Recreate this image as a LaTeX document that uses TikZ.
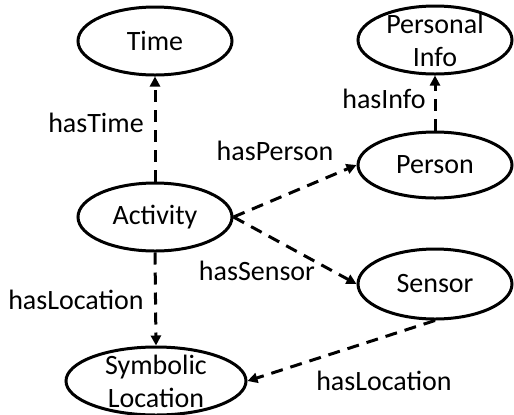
\documentclass[tikz,border=0pt]{standalone}
\usepackage{fontspec}
\setmainfont{Carlito}
\usetikzlibrary{shapes.geometric, arrows.meta, positioning}

\begin{document}
\begin{tikzpicture}[
  x=0.5pt, y=-0.5pt,
  concept/.style={draw, ellipse, line width=1.5pt, minimum width=77pt, minimum height=34pt, inner xsep=0pt, inner ysep=-5pt, align=center, font=\fontsize{14}{16.5}\selectfont},
  rel/.style={-{Triangle[length=5pt, width=5pt]}, line width=1.5pt, dash pattern=on 6pt off 4pt},
  lbl/.style={inner sep=0pt, font=\fontsize{14}{16.5}\selectfont}
]
  \useasboundingbox (0,0) rectangle (514,414);

  \node[concept] (Time) at (155,41) {Time};
  \node[concept] (Info) at (435,40) {Personal\\Info};
  \node[concept, minimum height=33pt] (Person) at (435,165) {Person};
  \node[concept] (Activity) at (155,217) {Activity};
  \node[concept, minimum height=35pt] (Sensor) at (435,284) {Sensor};
  \node[concept, minimum width=90pt] (Symbolic) at (156,381) {Symbolic\\Location};

  \draw[rel] (Activity.north) -- (Time.south) node[lbl] at (96,123) {hasTime};
  \draw[rel] (Person.north) -- (Info.south) node[lbl] at (384,99) {hasInfo};
  \draw[rel] (Activity.east) -- (Person.west) node[lbl] at (275,151) {hasPerson};
  \draw[rel] (Activity.east) -- (Sensor.west) node[lbl] at (257,271) {hasSensor};
  \draw[rel] (Activity.south) -- (Symbolic.north) node[lbl] at (76,300) {hasLocation};
  \draw[rel] (Sensor.south) -- (Symbolic.east) node[lbl] at (384,381) {hasLocation};
\end{tikzpicture}
\end{document}
